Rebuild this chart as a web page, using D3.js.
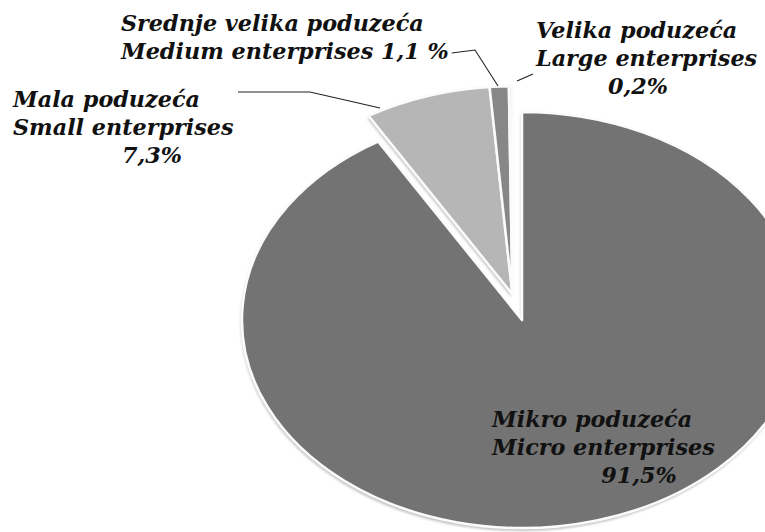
<!DOCTYPE html>
<html>
<head>
<meta charset="utf-8">
<script src="https://cdn.jsdelivr.net/npm/d3@7"></script>
<style>
  body { margin: 0; background: #fff; }
  svg { display: block; }
</style>
</head>
<body>
<div class="canvas"></div>
<script>
// data
const categories = ['Mikro poduzeća', 'Mala poduzeća', 'Srednje velika poduzeća', 'Velika poduzeća']
const categoriesEn = ['Micro enterprises', 'Small enterprises', 'Medium enterprises', 'Large enterprises']
const shares = [91.5, 7.3, 1.1, 0.2]
const pctLabels = ['91,5%', '7,3%', '1,1 %', '0,2%']

// styles / layout
const width = 765
const height = 532
const colors = ['#737373', '#b6b6b6', '#878787', '#efefef']
const cx = 522, cy = 320
const rx = 280, ry = 208
const explode = 36
const labelFont = 'DejaVu Serif'
const labelSize = 22.3
const lineH = 28

// label boxes: left x of name lines, first baseline, centre of % line
const labelLayout = [
  {x: 492, y: 427, px: 639, inline: false},
  {x: 13, y: 107, px: 152, inline: false},
  {x: 121, y: 31, px: 0, inline: true},
  {x: 536, y: 38, px: 638, inline: false}
]
// leader lines (label end -> slice)
const leaders = [
  null,
  [[238, 92], [310, 92], [380, 108]],
  [[459, 53], [475, 50], [498, 86]],
  [[517, 81], [533, 74]]
]

const svg = d3.select('.canvas')
  .append('svg')
  .attr('width', width)
  .attr('height', height)
  .attr('viewBox', `0 0 ${width} ${height}`)

const defs = svg.append('defs')
defs.append('filter')
  .attr('id', 'soft')
  .attr('x', '-10%').attr('y', '-10%').attr('width', '120%').attr('height', '120%')
  .append('feGaussianBlur')
  .attr('stdDeviation', 1.6)

const pie = d3.pie()
  .sort(null)
  .startAngle(0)
  .endAngle(2 * Math.PI)

const arcs = pie(shares)

const arc = d3.arc()
  .innerRadius(0)
  .outerRadius(rx)

// exploded group goes out along the mid angle of the small slices
const midSmall = (arcs[1].startAngle + 2 * Math.PI) / 2
const offX = explode * Math.sin(midSmall)
const offY = -explode * Math.cos(midSmall) * ry / rx

const slicePos = i => i === 0 ? [cx, cy] : [cx + offX, cy + offY]

// soft shadow under each slice
svg.append('g')
  .selectAll('path')
  .data(arcs)
  .enter()
  .append('path')
  .attr('transform', (d, i) => `translate(${slicePos(i)[0] - 1}, ${slicePos(i)[1] + 3}) scale(1, ${ry / rx})`)
  .attr('d', arc)
  .attr('fill', '#c4c4c4')
  .attr('filter', 'url(#soft)')

svg.append('g')
  .selectAll('path')
  .data(arcs)
  .enter()
  .append('path')
  .attr('transform', (d, i) => `translate(${slicePos(i)[0]}, ${slicePos(i)[1]}) scale(1, ${ry / rx})`)
  .attr('d', arc)
  .attr('fill', (d, i) => colors[i])
  .attr('stroke', '#fbfbfb')
  .attr('stroke-width', 2.5)
  .attr('stroke-linejoin', 'round')
  .attr('vector-effect', 'non-scaling-stroke')

// labels
const labels = svg.append('g')
  .attr('font-family', `'${labelFont}', serif`)
  .attr('font-size', labelSize)
  .attr('font-weight', 'bold')
  .attr('font-style', 'italic')
  .attr('fill', '#111')

const lineEnds = []
categories.forEach((c, i) => {
  const L = labelLayout[i]
  labels.append('text')
    .attr('x', L.x).attr('y', L.y)
    .text(c)
  const second = labels.append('text')
    .attr('x', L.x).attr('y', L.y + lineH)
    .text(L.inline ? `${categoriesEn[i]} ${pctLabels[i]}` : categoriesEn[i])
  lineEnds[i] = L.x + second.node().getComputedTextLength()
  if (!L.inline) {
    labels.append('text')
      .attr('x', L.px).attr('y', L.y + 2 * lineH)
      .attr('text-anchor', 'middle')
      .text(pctLabels[i])
  }
})

// medium leader starts right after its text
leaders[2][0][0] = Math.min(lineEnds[2] + 3, leaders[2][1][0] - 4)

// leader lines
svg.append('g')
  .selectAll('path')
  .data(leaders.filter(d => d))
  .enter()
  .append('path')
  .attr('d', d3.line())
  .attr('fill', 'none')
  .attr('stroke', '#222')
  .attr('stroke-width', 1.1)
</script>
</body>
</html>
